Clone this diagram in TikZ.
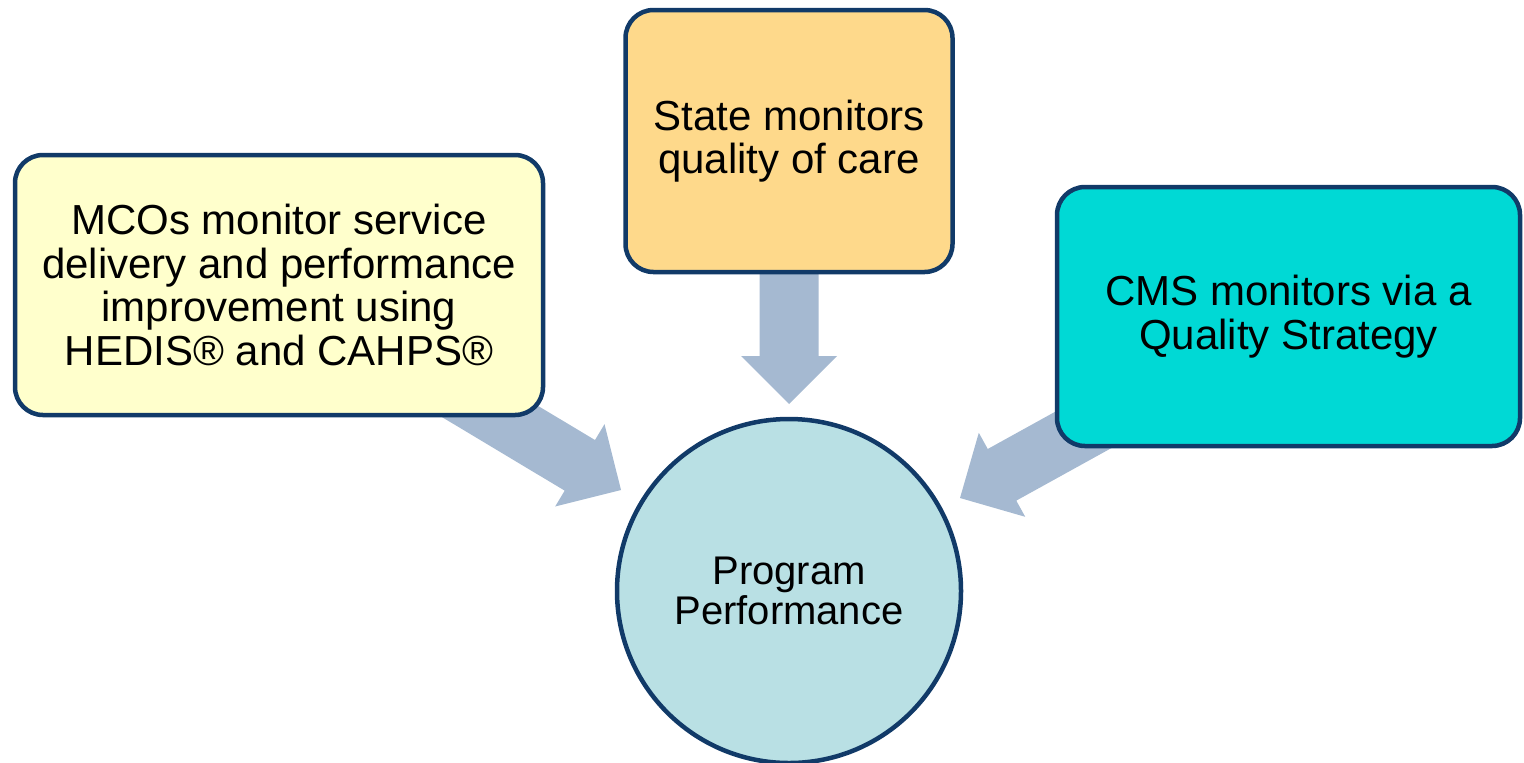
\documentclass[tikz,border=0pt]{standalone}
\usepackage{fontspec}
\setmainfont{Liberation Sans}
\usetikzlibrary{calc,backgrounds}
\definecolor{navy}{HTML}{113A68}
\definecolor{yel}{HTML}{FFFFCC}
\definecolor{orng}{HTML}{FED98B}
\definecolor{cyn}{HTML}{00D9D5}
\definecolor{circfill}{HTML}{B9E0E4}
\definecolor{arrowblue}{HTML}{A5B9D1}
\newcommand\blockarr[2]{%
  \coordinate (h) at ($(#2)!24pt!(#1)$);
  \fill[blockarrow] ($(#1)!14.75pt!90:(#2)$) -- ($(h)!14.75pt!90:(#2)$) -- ($(h)!24pt!90:(#2)$) -- (#2)
    -- ($(h)!24pt!-90:(#2)$) -- ($(h)!14.75pt!-90:(#2)$) -- ($(#1)!14.75pt!-90:(#2)$) -- cycle;}
\begin{document}
\begin{tikzpicture}[x=0.5pt,y=-0.5pt,
  box/.style={draw=navy, line width=2.25pt, rounded corners=14pt, inner sep=0pt, align=center,
    font=\fontsize{21}{21.85}\selectfont},
  blockarrow/.style={fill=arrowblue, draw=none}]
\useasboundingbox (0,0) rectangle (1524,762);
\node[box, fill=yel, minimum width=264pt, minimum height=130pt] (mco) at (279,285)
  {MCOs monitor service\\delivery and performance\\improvement using\\HEDIS® and CAHPS®};
\node[box, fill=orng, minimum width=163.5pt, minimum height=131pt] (state) at (789,141)
  {State monitors\\quality of care};
\node[box, fill=cyn, minimum width=231.5pt, minimum height=129.5pt] (cms) at (1288.5,316.5)
  {CMS monitors via a\\Quality Strategy};
\node[circle, draw=navy, line width=2.25pt, fill=circfill, minimum size=172pt, inner sep=0pt,
  align=center, font=\fontsize{20}{20}\selectfont] (pp) at (789,591) {Program\\Performance};
\coordinate (tl) at (621,490);
\coordinate (tm) at (789,404);
\coordinate (tr) at (960,498);
\begin{pgfonlayer}{background}
\blockarr{mco.center}{tl}
\blockarr{state.center}{tm}
\blockarr{cms.center}{tr}
\end{pgfonlayer}
\end{tikzpicture}
\end{document}
